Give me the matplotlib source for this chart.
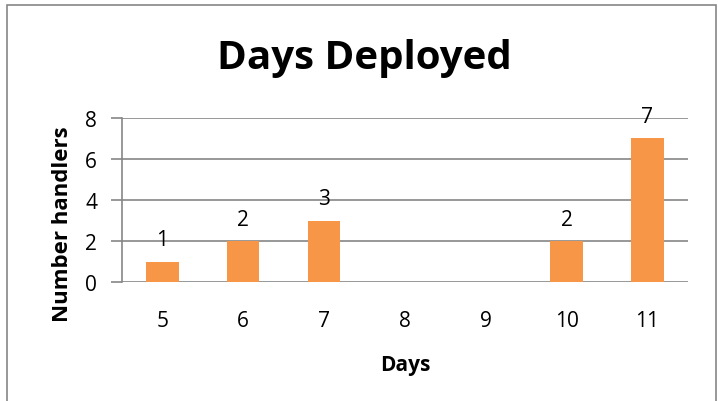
import matplotlib
matplotlib.use("Agg")
import matplotlib.pyplot as plt
from matplotlib.patches import Rectangle

# data
days = ["5", "6", "7", "8", "9", "10", "11"]
handlers = [1, 2, 3, 0, 0, 2, 7]
bar_labels = ["1", "2", "3", "", "", "2", "7"]
y_ticks = [0, 2, 4, 6, 8]

plt.rcParams['font.family'] = ['Open Sans', 'DejaVu Sans']

fig = plt.figure(figsize=(7.18, 4.02), dpi=100)
ax = fig.add_axes([0.170, 0.296, 0.788, 0.408])

# outer chart frame
fig.patches.append(Rectangle((7 / 718, -0.05), 709 / 718, 1.05 - 6 / 402, transform=fig.transFigure,
                             fill=False, edgecolor="#868686", linewidth=1.2))

x = range(len(days))
bars = ax.bar(x, handlers, width=0.4, color="#F79646", zorder=3)
for b, lab in zip(bars, bar_labels):
    if lab:
        ax.text(b.get_x() + b.get_width() / 2, b.get_height() + 0.55, lab,
                ha="center", va="bottom", fontsize=15)

ax.set_xlim(-0.5, len(days) - 0.5)
ax.set_ylim(0, 8)
ax.set_yticks(y_ticks)
ax.set_xticks(list(x))
ax.set_xticklabels(days)
ax.grid(axis="y", color="#868686", linewidth=1.2, zorder=0)
for s in ["top", "right", "bottom"]:
    ax.spines[s].set_visible(False)
ax.spines["left"].set_color("#868686")
ax.spines["left"].set_linewidth(1.2)
ax.tick_params(axis="y", length=8, color="#868686", width=1.2, labelsize=15, pad=10)
ax.tick_params(axis="x", length=0, labelsize=15, pad=20)

fig.text(364 / 718, 1 - 58 / 402, "Days Deployed", fontsize=29, fontweight="bold",
         ha="center", va="center")
ax.set_xlabel("Days", fontsize=15, fontweight="bold", labelpad=17)
ax.set_ylabel("Number handlers", fontsize=16, fontweight="bold")
ax.yaxis.set_label_coords(-0.086, 0.36)

fig.savefig("out.png", dpi=100)
